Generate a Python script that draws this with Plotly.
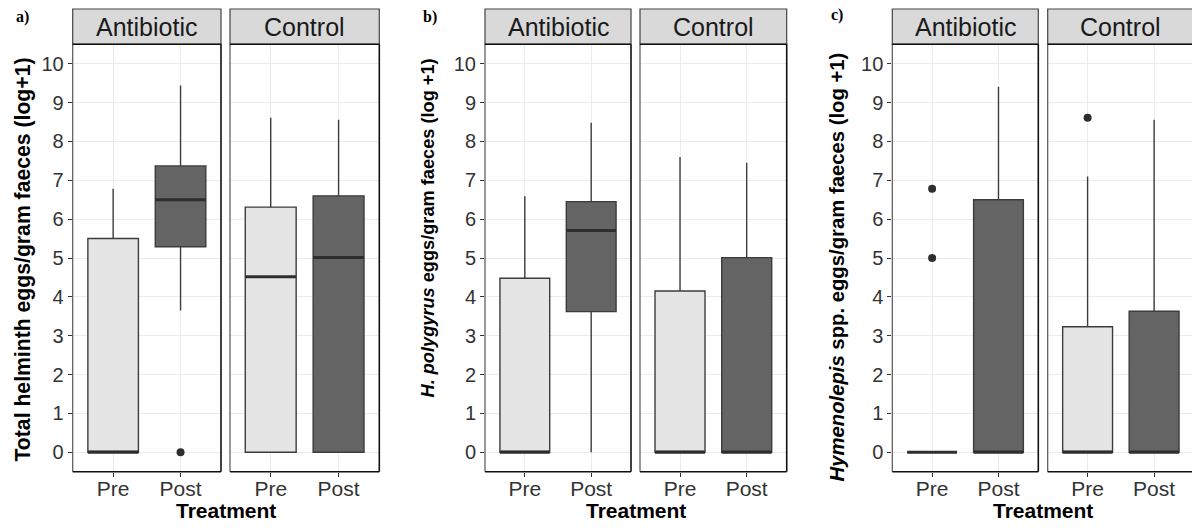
import plotly.graph_objects as go

# ---------------- data ----------------
groups = ["Antibiotic", "Control"]
times = ["Pre", "Post"]
# order of boxes in each panel: Antibiotic-Pre, Antibiotic-Post, Control-Pre, Control-Post
total_q1 = [0.00, 5.29, 0.00, 0.00]
total_med = [0.00, 6.50, 4.52, 5.01]
total_q3 = [5.50, 7.37, 6.31, 6.60]
total_lo = [0.00, 3.65, 0.00, 0.00]
total_hi = [6.78, 9.44, 8.61, 8.56]
total_out = [[], [0.0], [], []]

hpoly_q1 = [0.00, 3.62, 0.00, 0.00]
hpoly_med = [0.00, 5.71, 0.00, 0.00]
hpoly_q3 = [4.48, 6.45, 4.15, 5.01]
hpoly_lo = [0.00, 0.00, 0.00, 0.00]
hpoly_hi = [6.59, 8.48, 7.60, 7.45]
hpoly_out = [[], [], [], []]

hymen_q1 = [0.00, 0.00, 0.00, 0.00]
hymen_med = [0.00, 0.00, 0.00, 0.00]
hymen_q3 = [0.00, 6.50, 3.23, 3.63]
hymen_lo = [0.00, 0.00, 0.00, 0.00]
hymen_hi = [0.00, 9.41, 7.10, 8.56]
hymen_out = [[6.78, 5.00], [], [8.61], []]

y_ticks = list(range(0, 11))
panel_labels = ["a)", "b)", "c)"]
y_titles = [
    "<b>Total helminth eggs/gram faeces (log+1)</b>",
    "<b><i>H. polygyrus</i> eggs/gram faeces (log +1)</b>",
    "<b><i>Hymenolepis</i> spp. eggs/gram faeces (log +1)</b>",
]
x_title = "<b>Treatment</b>"

panels = [
    (total_q1, total_med, total_q3, total_lo, total_hi, total_out),
    (hpoly_q1, hpoly_med, hpoly_q3, hpoly_lo, hpoly_hi, hpoly_out),
    (hymen_q1, hymen_med, hymen_q3, hymen_lo, hymen_hi, hymen_out),
]

# ---------------- layout geometry (pixels) ----------------
W, H = 1192, 531
facet_px = [
    [(72.7, 221.0), (230.0, 379.3)],
    [(485.0, 631.0), (640.0, 786.7)],
    [(892.3, 1038.3), (1047.7, 1194.0)],
]
strip_top, plot_top, plot_bot = 9.0, 44.3, 471.7
ytitle_pos = [(22, 259.5), (428, 228.5), (836, 267.5)]
ytitle_size = [21.2, 18.2, 20.3]
plabel_pos = [(22, 17), (430, 17), (837, 15)]

FONT = "Liberation Sans, Arial, sans-serif"
DARK = "#333333"
fills = ["#e5e5e5", "#646464"]


def fx(px):
    return px / W


def fy(py):
    return 1 - py / H


fig = go.Figure()
shapes = []
annotations = []
layout = {}

ydom = [fy(plot_bot), fy(plot_top)]
ax = 0
for p, (q1, med, q3, lo, hi, out) in enumerate(panels):
    for g in range(2):
        ax += 1
        xname = "x" if ax == 1 else f"x{ax}"
        yname = "y" if ax == 1 else f"y{ax}"
        x0, x1 = facet_px[p][g]
        vis1 = min(x1, W)
        xmax = 0.4 + 2.2 * (vis1 - x0) / (x1 - x0)
        layout["xaxis" if ax == 1 else f"xaxis{ax}"] = dict(
            domain=[fx(x0), fx(vis1)], anchor=yname, range=[0.4, xmax],
            tickvals=[1, 2], ticktext=times, showgrid=True, gridcolor="#ebebeb",
            gridwidth=1, zeroline=False, showline=False, ticks="outside",
            ticklen=4, tickcolor=DARK, tickwidth=1, ticklabelstandoff=-6,
            tickfont=dict(family=FONT, size=21, color="#333333"), fixedrange=True,
        )
        layout["yaxis" if ax == 1 else f"yaxis{ax}"] = dict(
            domain=ydom, anchor=xname, range=[-0.5, 10.5], tickvals=y_ticks,
            showgrid=True, gridcolor="#ebebeb", gridwidth=1, zeroline=False,
            showline=False, ticks="outside" if g == 0 else "", ticklen=4,
            tickcolor=DARK, showticklabels=(g == 0),
            tickfont=dict(family=FONT, size=20, color="#333333"), fixedrange=True,
        )
        for t in range(2):
            i = g * 2 + t
            xpos = t + 1
            fig.add_trace(go.Box(
                x=[xpos], q1=[q1[i]], median=[med[i]], q3=[q3[i]],
                lowerfence=[lo[i]], upperfence=[hi[i]], width=0.75,
                fillcolor=fills[t], line=dict(color="#3c3c3c", width=1.4),
                whiskerwidth=0, boxpoints=False, xaxis=xname, yaxis=yname,
                showlegend=False, hoverinfo="skip",
            ))
            # thicker median line (ggplot fatten)
            fig.add_trace(go.Scatter(
                x=[xpos - 0.375, xpos + 0.375], y=[med[i], med[i]], mode="lines",
                line=dict(color="#2e2e2e", width=3), xaxis=xname, yaxis=yname,
                showlegend=False, hoverinfo="skip",
            ))
            if out[i]:
                fig.add_trace(go.Scatter(
                    x=[xpos] * len(out[i]), y=out[i], mode="markers",
                    marker=dict(color="#2e2e2e", size=8), xaxis=xname, yaxis=yname,
                    showlegend=False, hoverinfo="skip",
                ))
        # panel border
        X0, X1 = fx(x0), fx(x1)
        Y0, Y1 = fy(plot_bot), fy(plot_top)
        shapes.append(dict(type="line", xref="paper", yref="paper", x0=X0, x1=X0,
                           y0=Y0, y1=Y1, line=dict(color="#555555", width=1.2)))
        shapes.append(dict(type="line", xref="paper", yref="paper", x0=X0, x1=X1,
                           y0=Y0, y1=Y0, line=dict(color="#111111", width=1.6)))
        if x1 <= W:
            shapes.append(dict(type="line", xref="paper", yref="paper", x0=X1, x1=X1,
                               y0=Y0, y1=Y1, line=dict(color="#111111", width=1.6)))
        # strip
        shapes.append(dict(type="rect", xref="paper", yref="paper", x0=X0, x1=X1,
                           y0=fy(plot_top), y1=fy(strip_top), fillcolor="#d9d9d9",
                           line=dict(color="#444444", width=1.2), layer="below"))
        shapes.append(dict(type="line", xref="paper", yref="paper", x0=X0, x1=X1,
                           y0=fy(plot_top), y1=fy(plot_top),
                           line=dict(color="#111111", width=1.6)))
        annotations.append(dict(text=groups[g], xref="paper", yref="paper",
                                x=fx((x0 + x1) / 2), y=fy((strip_top + plot_top) / 2),
                                xanchor="center", yanchor="middle", showarrow=False,
                                font=dict(family=FONT, size=25, color="#1a1a1a")))
    # y title
    tx, ty = ytitle_pos[p]
    annotations.append(dict(text=y_titles[p], xref="paper", yref="paper", x=fx(tx),
                            y=fy(ty), xanchor="center", yanchor="middle", textangle=-90,
                            showarrow=False,
                            font=dict(family=FONT, size=ytitle_size[p], color="black")))
    # x title
    cx = (facet_px[p][0][0] + facet_px[p][1][1]) / 2
    annotations.append(dict(text=x_title, xref="paper", yref="paper", x=fx(cx),
                            y=fy(510), xanchor="center", yanchor="middle",
                            showarrow=False, font=dict(family=FONT, size=21, color="black")))
    # panel label
    lx, ly = plabel_pos[p]
    annotations.append(dict(text="<b>" + panel_labels[p] + "</b>", xref="paper",
                            yref="paper", x=fx(lx), y=fy(ly), xanchor="center",
                            yanchor="middle", showarrow=False,
                            font=dict(family="Liberation Serif, Times New Roman, serif",
                                      size=16, color="black")))

fig.update_layout(
    width=W, height=H, margin=dict(l=0, r=0, t=0, b=0),
    paper_bgcolor="white", plot_bgcolor="white",
    shapes=shapes, annotations=annotations, showlegend=False, **layout,
)

fig.write_html("out.html")
